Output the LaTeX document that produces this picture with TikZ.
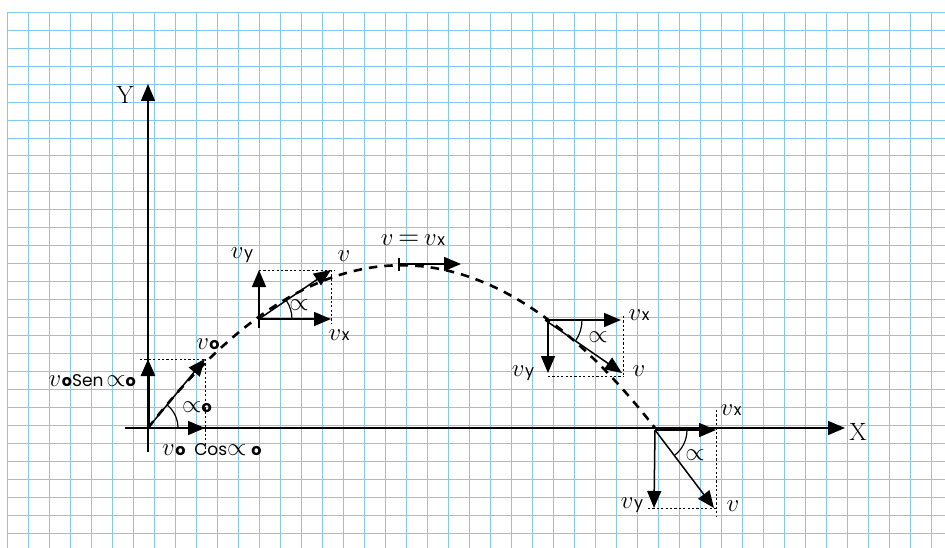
\documentclass[tikz,border=0pt]{standalone}
\usepackage{fontspec}
\setsansfont{Poppins}
\usetikzlibrary{arrows.meta}
\definecolor{gridblue}{RGB}{130,200,240}
\newcommand{\myv}[1]{$v$\kern0.5pt{\sffamily\fontsize{16}{18}\selectfont #1}}
\newcommand{\myvo}{$v$\kern0.5pt{\sffamily\bfseries\fontsize{16}{18}\selectfont o}}
\newcommand{\myalpha}{$\propto$}
\tikzset{
  gridline/.style={draw=gridblue, line width=1pt},
  vec/.style={-{Triangle[length=17pt,width=14pt]}, line width=1.5pt},
  guide/.style={dash pattern=on 2.2pt off 2.2pt, line width=1pt},
  traj/.style={dash pattern=on 8.5pt off 7pt, line width=2.6pt},
  lbl/.style={inner sep=0pt, font=\fontsize{29}{31}\selectfont},
  axlbl/.style={inner sep=0pt, font=\fontsize{25}{27}\selectfont},
  arcline/.style={line width=1.2pt}
}
\begin{document}
\begin{tikzpicture}[x=1pt,y=-1pt]
\useasboundingbox[fill=white] (0,0) rectangle (945,548);
% grid
\foreach \k in {0,...,44} \draw[gridline] ({7.3+21*\k},12.3) -- ({7.3+21*\k},548);
\foreach \k in {0,...,29} \draw[gridline] (7.3,{12.3+17.96*\k}) -- (945,{12.3+17.96*\k});

% key points
\coordinate (O) at (148,428);
\coordinate (Ybot) at (148,452);
\coordinate (Ytop) at (148,84);
\coordinate (Xleft) at (125,428);
\coordinate (Xright) at (845,428);
\coordinate (V1) at (205,359);
\coordinate (V1y) at (148,359);
\coordinate (V1x) at (205,428);
\coordinate (V1g) at (140,359);
\coordinate (V1d) at (205,452);
\coordinate (A2) at (259,319);
\coordinate (A2b) at (259,328);
\coordinate (V2) at (331,270);
\coordinate (V2y) at (259,270);
\coordinate (V2x) at (331,319);
\coordinate (V2c) at (334,270);
\coordinate (V2d) at (331,323);
\coordinate (P) at (399,264);
\coordinate (Pt) at (399,258);
\coordinate (Pb) at (399,271);
\coordinate (Px) at (461,264);
\coordinate (A3) at (545,320);
\coordinate (A3v) at (548,320);
\coordinate (V3) at (622,373);
\coordinate (V3y) at (548,373);
\coordinate (V3x) at (621,320);
\coordinate (V3a) at (623,316);
\coordinate (V3b) at (623,376);
\coordinate (V3c) at (548,376);
\coordinate (A4) at (655,430);
\coordinate (V4) at (714,508);
\coordinate (V4y) at (654,508);
\coordinate (V4x) at (716,430);
\coordinate (V4a) at (716,410);
\coordinate (V4b) at (716,516);
\coordinate (V4e) at (716,508);
\coordinate (V4c) at (648,508);

% axes
\draw[vec] (Ybot) -- (Ytop);
\draw[vec] (Xleft) -- (Xright);
\node[axlbl] (Ylab) at (125,95) {Y};
\node[axlbl] (Xlab) at (858,432) {X};

% trajectory
\draw[traj] (O) .. controls (317,211) and (486,211) .. (655,428);

% vector 1
\draw[guide] (V1g) -- (V1);
\draw[guide] (V1) -- (V1d);
\draw[vec, line width=3pt] (O) -- (V1y);
\draw[vec] (O) -- (V1x);
\draw[vec] (O) -- (V1);
\draw[arcline] (178,428) arc[start angle=0, end angle=-50, radius=30];
\node[lbl] (l1v) at (208,344) {\myvo};
\node[lbl, anchor=east] (l1s) at (136,381) {\myvo{\sffamily\fontsize{17}{18}\selectfont Sen\,}\myalpha{\sffamily\bfseries\fontsize{16}{18}\selectfont o}};
\node[lbl] (l1a) at (197,407) {\myalpha{\sffamily\bfseries\fontsize{16}{18}\selectfont o}};
\node[lbl, anchor=west] (l1c) at (162,450) {\myvo\ {\sffamily\fontsize{17}{18}\selectfont Cos}\myalpha\,{\sffamily\bfseries\fontsize{16}{18}\selectfont o}};

% vector 2
\draw[guide] (V2y) -- (V2c);
\draw[guide] (V2) -- (V2d);
\draw[vec] (A2b) -- (V2y);
\draw[vec] (A2) -- (V2x);
\draw[vec] (A2) -- (V2);
\draw[arcline] (292,319) arc[start angle=0, end angle=-34.6, radius=33];
\node[lbl] (l2y) at (242,255) {\myv{y}};
\node[lbl] (l2v) at (344,256) {$v$};
\node[lbl] (l2x) at (339,335) {\myv{x}};
\node[lbl] (l2a) at (299,305) {\myalpha};

% peak
\draw[line width=1.5pt] (Pt) -- (Pb);
\draw[vec] (P) -- (Px);
\node[lbl] (lp) at (413,240) {$v$\,=\,\myv{x}};

% vector 3
\draw[guide] (V3a) -- (V3b);
\draw[guide] (V3c) -- (V3b);
\draw[vec] (A3v) -- (V3y);
\draw[vec] (A3) -- (V3x);
\draw[vec] (A3) -- (V3);
\draw[arcline] (582,320) arc[start angle=0, end angle=34, radius=37];
\node[lbl] (l3x) at (639,315) {\myv{x}};
\node[lbl] (l3y) at (523,373) {\myv{y}};
\node[lbl] (l3v) at (639,371) {$v$};
\node[lbl] (l3a) at (598,337) {\myalpha};

% vector 4
\draw[guide] (V4a) -- (V4b);
\draw[guide] (V4c) -- (V4e);
\draw[vec] (A4) -- (V4y);
\draw[vec] (A4) -- (V4x);
\draw[vec] (A4) -- (V4);
\draw[arcline] (687,430) arc[start angle=0, end angle=53, radius=32];
\node[lbl] (l4x) at (731,410) {\myv{x}};
\node[lbl] (l4y) at (632,505) {\myv{y}};
\node[lbl] (l4v) at (733,506) {$v$};
\node[lbl] (l4a) at (695,455) {\myalpha};
\end{tikzpicture}
\end{document}
